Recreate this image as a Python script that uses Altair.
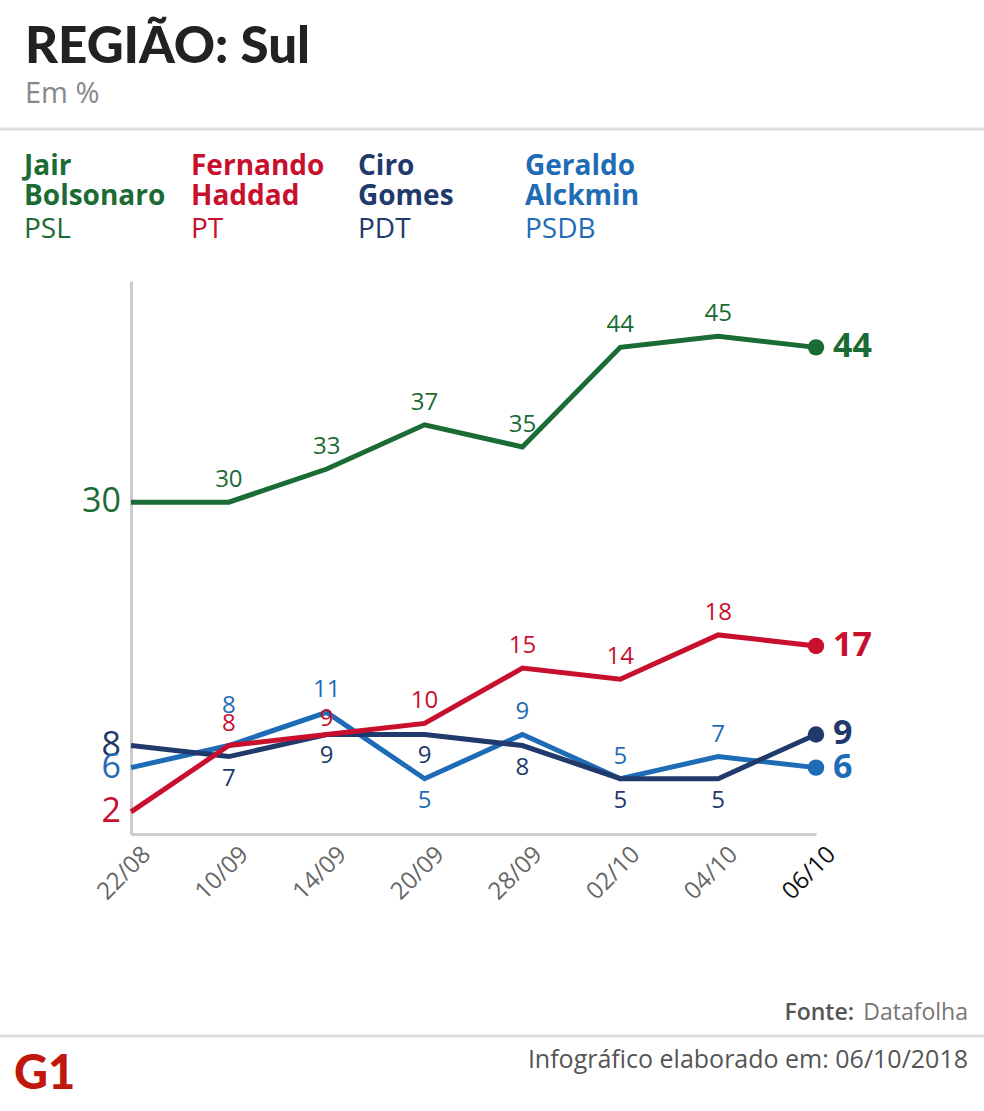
import altair as alt
import pandas as pd

# Poll dates and candidates
dates = ["22/08", "10/09", "14/09", "20/09", "28/09", "02/10", "04/10", "06/10"]
candidates = ["Jair Bolsonaro", "Fernando Haddad", "Ciro Gomes", "Geraldo Alckmin"]
parties = ["PSL", "PT", "PDT", "PSDB"]
colors = ["#1b6b34", "#c8102e", "#213a6c", "#1f6cb6"]

# Voting intention (%) in the South region
bolsonaro = [30, 30, 33, 37, 35, 44, 45, 44]
haddad = [2, 8, 9, 10, 15, 14, 18, 17]
ciro = [8, 7, 9, 9, 8, 5, 5, 9]
alckmin = [6, 8, 11, 5, 9, 5, 7, 6]

# Where each value label sits relative to its point
bolsonaro_side = ["start", "above", "above", "above", "above", "above", "above", "end"]
haddad_side = ["start", "above", "near", "above", "above", "above", "above", "end"]
ciro_side = ["start", "below", "below", "below", "below", "below", "below", "end"]
alckmin_side = ["start", "high", "above", "below", "above", "above", "above", "end"]

series = [bolsonaro, haddad, ciro, alckmin]
sides = [bolsonaro_side, haddad_side, ciro_side, alckmin_side]

rows = []
for name, vals, side in zip(candidates, series, sides):
    for d, v, s in zip(dates, vals, side):
        rows.append({"date": d, "candidate": name, "value": v, "side": s})
df = pd.DataFrame(rows)

FONT = "Open Sans"
color_scale = alt.Scale(domain=candidates, range=colors)

base = alt.Chart(df).encode(
    x=alt.X(
        "date:O",
        sort=dates,
        scale=alt.Scale(type="point", padding=0),
        axis=alt.Axis(
            title=None,
            labelAngle=-45,
            labelFont=FONT,
            labelFontSize=24,
            labelColor={
                "condition": {"test": "datum.label == '06/10'", "value": "#111111"},
                "value": "#666666",
            },
            labelPadding=8,
            labelOffset=7,
            ticks=False,
            grid=False,
            domainColor="#cccccc",
            domainWidth=3,
        ),
    ),
    y=alt.Y(
        "value:Q",
        scale=alt.Scale(domain=[0, 50], nice=False, zero=True),
        axis=alt.Axis(
            title=None,
            labels=False,
            ticks=False,
            grid=False,
            domainColor="#cccccc",
            domainWidth=3,
        ),
    ),
    color=alt.Color("candidate:N", scale=color_scale, legend=None),
)

# Lines, drawn bottom-to-top
layers = []
for name in ["Geraldo Alckmin", "Ciro Gomes", "Fernando Haddad", "Jair Bolsonaro"]:
    layers.append(
        base.transform_filter(alt.datum.candidate == name).mark_line(
            strokeWidth=5, strokeJoin="miter", strokeCap="butt"
        )
    )

# Latest-poll dots
layers.append(
    base.transform_filter(alt.datum.side == "end").mark_circle(size=270, opacity=1)
)

text_base = base.encode(text=alt.Text("value:Q"))
label_styles = {
    "above": dict(dy=-22, fontSize=24, align="center", baseline="middle"),
    "near": dict(dy=-15, fontSize=24, align="center", baseline="middle"),
    "high": dict(dy=-40, fontSize=24, align="center", baseline="middle"),
    "below": dict(dy=22, fontSize=24, align="center", baseline="middle"),
    "start": dict(dx=-10, fontSize=34, align="right", baseline="middle"),
    "end": dict(dx=17, fontSize=34, align="left", baseline="middle", fontWeight="bold"),
}
for side, style in label_styles.items():
    layers.append(
        text_base.transform_filter(alt.datum.side == side).mark_text(font=FONT, **style)
    )

# Header, candidate key and footer
one = pd.DataFrame({"k": [0]})
deco = alt.Chart(one)


def txt(text, x, y, size, color, weight="normal", align="left", font=FONT):
    return deco.mark_text(
        font=font, fontSize=size, color=color, fontWeight=weight,
        align=align, baseline="alphabetic",
    ).encode(x=alt.value(x), y=alt.value(y), text=alt.value(text))


def hline(y):
    return deco.mark_rule(color="#dddddd", strokeWidth=3).encode(
        x=alt.value(-131), x2=alt.value(853), y=alt.value(y)
    )


extras = [
    txt("REGIÃO: Sul", -106, -218, 51, "#222222", weight=900, font="Lato"),
    txt("Em %", -106, -178, 29, "#888888"),
    hline(-152),
]
for i, (name, party, col) in enumerate(zip(candidates, parties, colors)):
    first, last = name.split(" ", 1)
    x0 = -107 + i * 167
    extras.append(txt(first, x0, -106, 28, col, weight="bold"))
    extras.append(txt(last, x0, -76, 28, col, weight="bold"))
    extras.append(txt(party, x0, -43, 28, col))

extras += [
    txt("Datafolha", 837, 739, 23, "#777777", align="right"),
    txt("Fonte:", 723, 739, 23, "#555555", weight=600, align="right"),
    hline(755),
    txt("Infográfico elaborado em: 06/10/2018", 837, 787, 25, "#555555", align="right"),
    txt("G1", -117, 808, 47, "#c0180c", weight=900, font="Lato"),
]

chart = alt.layer(*layers, *extras).properties(
    width=685,
    height=553,
    autosize=alt.AutoSizeParams(type="none"),
    padding={"left": 131, "top": 281, "right": 168, "bottom": 277},
    background="white",
).configure_view(stroke=None)

chart.save("out.html", embed_options={"renderer": "svg", "actions": False})
